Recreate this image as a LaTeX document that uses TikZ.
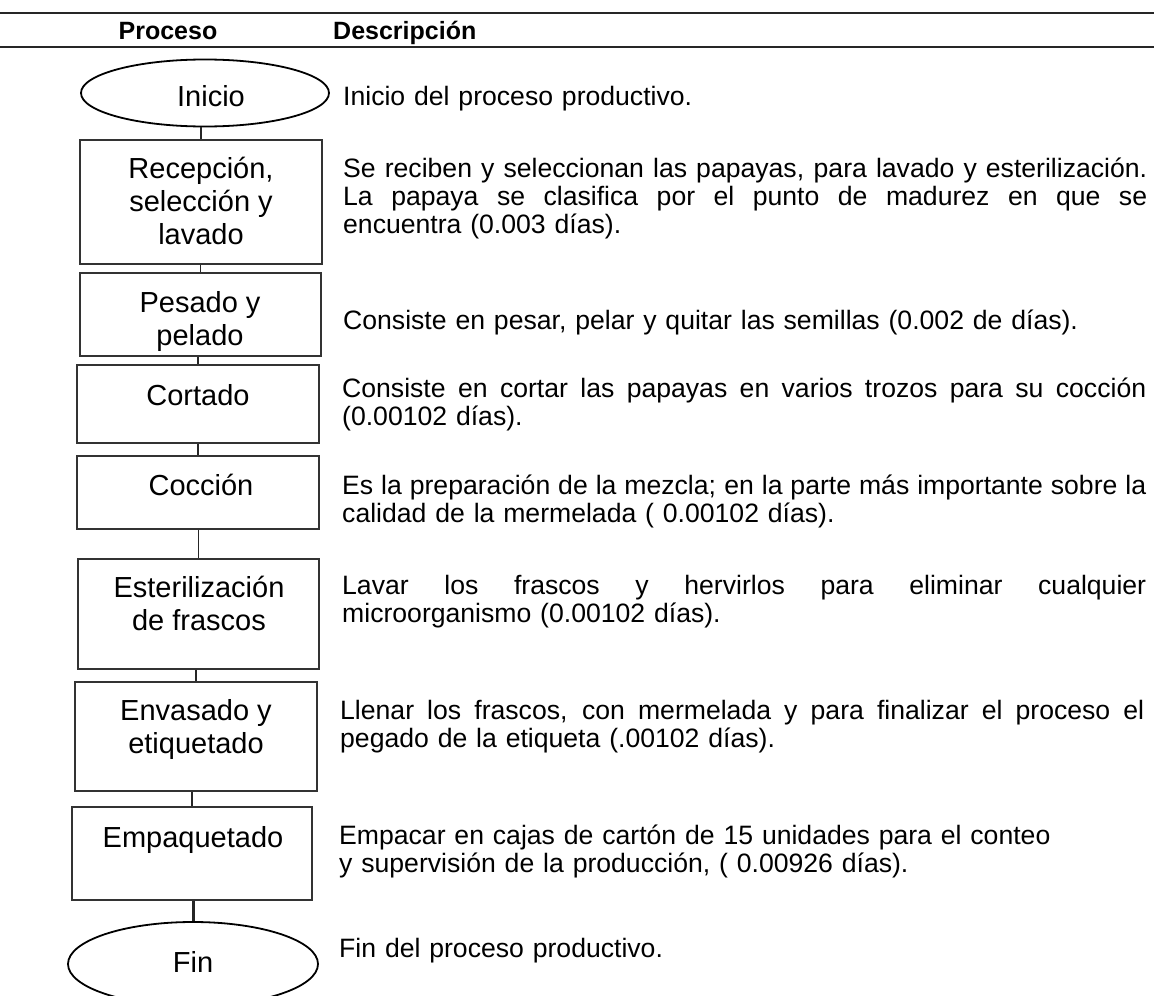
\documentclass[tikz,border=0pt]{standalone}
\usepackage{fontspec}
\setmainfont{Liberation Sans}
\usetikzlibrary{shapes.geometric,calc}
\newlength\dw \setlength\dw{804pt}
\newcommand\jline[1]{\makebox[\dw][s]{\spaceskip=0pt\xspaceskip=0pt #1}}
\begin{document}
\begin{tikzpicture}[x=1pt,y=-1pt,
  rule/.style={line width=1.3pt, black!85},
  pbox/.style={draw=black!80, line width=1.1pt, rectangle, inner sep=0pt},
  term/.style={draw=black, line width=1.8pt, ellipse, inner sep=0pt},
  conn/.style={line width=1.5pt, black!85},
  ptext/.style={font=\fontsize{29}{33}\selectfont, align=center, inner sep=0pt, anchor=base},
  dtext/.style={font=\fontsize{26.6}{28}\selectfont, align=left, inner sep=0pt, anchor=base west, text width=\dw},
  htext/.style={font=\bfseries\fontsize{25}{28}\selectfont, inner sep=0pt}
]
\useasboundingbox (0,0) rectangle (1154,996);
\fill[white] (0,0) rectangle (1154,996);
\clip (0,0) rectangle (1154,996);

% header rules
\draw[rule] (0,13) -- (1154,13);
\draw[rule] (0,47) -- (1154,47);
\node[htext, anchor=base] (hp) at (168,39) {Proceso};
\node[htext, anchor=base west] (hd) at (333,39) {Descripción};

% shapes
\node[term, minimum width=248pt, minimum height=67pt] (inicio) at (205,93) {};
\node[pbox, minimum width=242pt, minimum height=124pt] (b1) at (201,202) {};
\node[pbox, minimum width=241pt, minimum height=83pt] (b2) at (200.5,314.5) {};
\node[pbox, minimum width=242pt, minimum height=78pt] (b3) at (198,404) {};
\node[pbox, minimum width=242pt, minimum height=73pt] (b4) at (198,492.5) {};
\node[pbox, minimum width=241pt, minimum height=110pt] (b5) at (198.5,614) {};
\node[pbox, minimum width=242pt, minimum height=109pt] (b6) at (196,736.5) {};
\node[pbox, minimum width=240pt, minimum height=93pt] (b7) at (192,853.5) {};
\node[term, minimum width=250pt, minimum height=84pt] (fin) at (193,964) {};

% connectors
\draw[conn] (inicio.south -| b1.north) -- (b1.north);
\draw[conn] (b1.south -| b2.north) -- (b2.north);
\draw[conn] (b2.south -| b3.north) -- (b3.north);
\draw[conn] (b3.south -| b4.north) -- (b4.north);
\draw[conn] (b4.south -| b5.north) -- (b5.north);
\draw[conn] (b5.south -| b6.north) -- (b6.north);
\draw[conn] (b6.south -| b7.north) -- (b7.north);
\draw[conn, line width=3pt] (b7.south -| fin.north) -- (fin.north);

% process texts (anchor = baseline of last line)
\node[ptext] (ti) at (211,106) {Inicio};
\node[ptext] (t1) at (201,244) {Recepción,\\selección y\\lavado};
\node[ptext] (t2) at (200,345) {Pesado y\\pelado};
\node[ptext] (t3) at (198,405) {Cortado};
\node[ptext] (t4) at (201,495) {Cocción};
\node[ptext] (t5) at (199,630) {Esterilización\\de frascos};
\node[ptext] (t6) at (196,753) {Envasado y\\etiquetado};
\node[ptext] (t7) at (193,847) {Empaquetado};
\node[ptext] (tf) at (193,972) {Fin};

% descriptions
\node[dtext] (d0) at (343,105) {Inicio del proceso productivo.};
\node[dtext] (d1) at (343,177) {\jline{Se reciben y seleccionan las papayas, para lavado y esterilización.}\\
\jline{La papaya se clasifica por el punto de madurez en que se}\\
encuentra (0.003 días).};
\node[dtext] (d2) at (343,329) {Consiste en pesar, pelar y quitar las semillas (0.002 de días).};
\node[dtext] (d3) at (342,397) {\jline{Consiste en cortar las papayas en varios trozos para su cocción}\\
(0.00102 días).};
\node[dtext] (d4) at (342,494) {\jline{Es la preparación de la mezcla; en la parte más importante sobre la}\\
calidad de la mermelada ( 0.00102 días).};
\node[dtext] (d5) at (342,594) {\jline{Lavar los frascos y hervirlos para eliminar cualquier}\\
microorganismo (0.00102 días).};
\node[dtext] (d6) at (340,719) {\jline{Llenar los frascos, con mermelada y para finalizar el proceso el}\\
pegado de la etiqueta (.00102 días).};
\node[dtext] (d7) at (339,844) {Empacar en cajas de cartón de 15 unidades para el conteo\\
y supervisión de la producción, ( 0.00926 días).};
\node[dtext] (d8) at (339,957) {Fin del proceso productivo.};
\end{tikzpicture}
\end{document}
